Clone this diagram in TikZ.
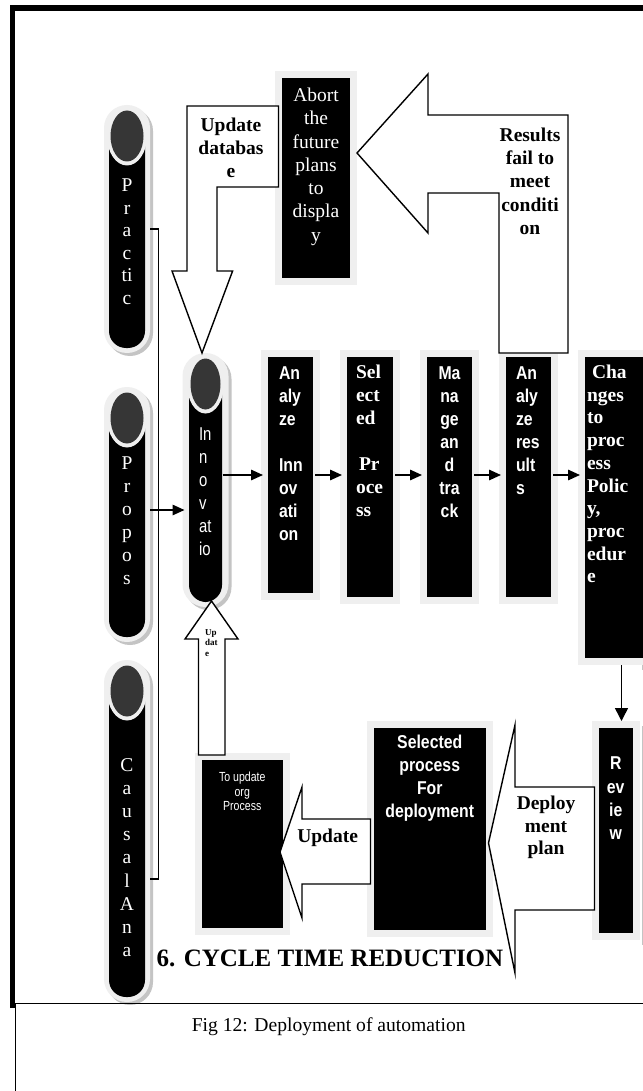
\documentclass[tikz,border=0pt]{standalone}
\usepackage{fontspec}
\setmainfont{Liberation Serif}
\newfontfamily\nsansb[FakeStretch=0.85]{Liberation Sans}
\newfontfamily\nsansr[FakeStretch=0.8]{Liberation Sans}
\usetikzlibrary{arrows.meta,calc}
\pgfdeclarelayer{background}
\pgfsetlayers{background,main}
\definecolor{lightb}{HTML}{EFEFEF}
\definecolor{shadc}{HTML}{C4C4C4}
\definecolor{darkel}{HTML}{363636}
\newcommand{\pserif}{\fontsize{19.5pt}{23pt}\selectfont}
\newcommand{\psans}{\nsansb\bfseries\fontsize{18.6pt}{23pt}\selectfont}
\newcommand{\psansr}{\nsansr\fontsize{18.6pt}{23pt}\selectfont}
% pill decoration: cx, top, bottom, half width of black body
\newcommand{\pillshape}[4]{%
  \fill[shadc, rounded corners=23pt] ({#1-20},{#2+3}) rectangle ({#1+26},{#3+3});
  \fill[lightb, rounded corners=23pt] ({#1-23},{#2}) rectangle ({#1+23},{#3});
  \fill[black] ({#1-#4},{#2+31}) [rounded corners=17pt] -- ({#1-#4},{#3-5}) -- ({#1+#4},{#3-5}) [sharp corners] -- ({#1+#4},{#2+31}) -- cycle;
  \fill[lightb] ({#1},{#2+31}) ellipse [x radius={(#4+2)*1pt}, y radius=29.5pt];
  \fill[darkel] ({#1},{#2+31}) ellipse [x radius={(#4-1.5)*1pt}, y radius=25.5pt];
}
\newcommand{\boxshadow}[1]{%
  \begin{pgfonlayer}{background}
    \fill[shadc] ([xshift=4pt,yshift=-5pt]#1.south west) rectangle ([xshift=4pt,yshift=-5pt]#1.north east);
  \end{pgfonlayer}}
\tikzset{
  pill/.style={inner sep=0pt, outer sep=0pt, text=white},
  blk/.style={fill=black, draw=lightb, line width=7pt, inner sep=3.5pt, text=white},
  arr/.style={line width=1.5pt, -{Triangle[length=12pt,width=10.5pt]}, shorten >=-2pt},
  arrv/.style={line width=1.5pt, -{Triangle[length=13pt,width=13pt]}},
  bus/.style={line width=1.3pt},
  barrow/.style={draw=black, fill=white, line width=1.4pt, line join=miter},
  atext/.style={anchor=base, inner sep=0pt},
}
\begin{document}
\begin{tikzpicture}[x=1pt,y=-1pt]
\useasboundingbox (0,0) rectangle (642,1091);
\fill[white] (0,0) rectangle (642,1091);

% ---------- pills ----------
\pillshape{127}{105}{353}{18}
\node[pill] (prac) at (127,229) {\parbox[c][248pt][t]{46pt}{\centering\pserif\baselineskip=22.6pt\rule{0pt}{86.5pt}P\\r\\a\\c\\ti\\c}};
\pillshape{127}{387}{642}{18}
\node[pill] (prop) at (127,514.5) {\parbox[c][255pt][t]{46pt}{\centering\pserif\rule{0pt}{82.5pt}P\\r\\o\\p\\o\\s}};
\pillshape{127}{660}{1002}{18}
\node[pill] (caus) at (127,831) {\parbox[c][342pt][t]{46pt}{\centering\pserif\baselineskip=23.1pt\rule{0pt}{111.5pt}C\\a\\u\\s\\a\\l\\A\\n\\a}};
\pillshape{205.5}{353}{607}{16.5}
\node[pill] (inno) at (205.5,480) {\parbox[c][254pt][t]{46pt}{\psansr\raggedright\leftskip=16.5pt\rule{0pt}{87pt}In\\n\\o\\v\\at\\io}};

% ---------- boxes ----------
\node[blk] (ab) at (316,178) {\parbox[c][200pt][t]{68pt}{\centering\pserif\baselineskip=23.3pt\rule{0pt}{23.5pt}Abort\\the\\future\\plans\\to\\displa\\y}};
\boxshadow{ab}
\node[blk] (b1) at (290.5,475) {\parbox[c][236pt][t]{45pt}{\psans\raggedright\leftskip=11pt\rule{0pt}{22.7pt}An\\aly\\ze\\[23pt]Inn\\ov\\ati\\on}};
\boxshadow{b1}
\node[blk] (b2) at (370,477) {\parbox[c][240pt][t]{46pt}{\pserif\bfseries\raggedright\leftskip=9pt\rule{0pt}{21.5pt}Sel\\ect\\ed\\[23pt]\hspace*{3pt}Pr\\oce\\ss}};
\boxshadow{b2}
\node[blk] (b3) at (449.5,477) {\parbox[c][240pt][t]{45pt}{\psans\centering\rule{0pt}{22.7pt}Ma\\na\\ge\\an\\d\\tra\\ck}};
\boxshadow{b3}
\node[blk] (b4) at (528.5,477) {\parbox[c][240pt][t]{45pt}{\psans\raggedright\leftskip=10pt\rule{0pt}{22.7pt}An\\aly\\ze\\res\\ult\\s}};
\boxshadow{b4}
\node[blk] (b5) at (620,507.5) {\parbox[c][301pt][t]{70pt}{\pserif\bfseries\raggedright\leftskip=2pt\baselineskip=22.7pt\rule{0pt}{21.5pt}\hspace*{5pt}Cha\\nges\\to\\proc\\ess\\Polic\\y,\\proc\\edur\\e}};
\boxshadow{b5}
\node[blk] (rv) at (615.7,830.5) {\parbox[c][205pt][t]{34pt}{\psans\centering\baselineskip=23.3pt\rule{0pt}{41.7pt}R\\ev\\ie\\w}};
\boxshadow{rv}
\node[blk] (sp) at (429.75,829) {\parbox[c][202pt][t]{112.5pt}{\psans\centering\rule{0pt}{20.7pt}Selected\\process\\For\\deployment}};
\boxshadow{sp}
\node[blk] (tu) at (242.25,844) {\parbox[c][168pt][t]{80.5pt}{\nsansr\fontsize{13.2pt}{14.5pt}\selectfont\centering\rule{0pt}{21.8pt}To update\\org\\Process}};
\boxshadow{tu}

% ---------- thin connectors ----------
\coordinate (busTop) at (158.5,229);
\coordinate (busBot) at (158.5,879);
\coordinate (pa) at (0,510);
\coordinate (row) at (0,475);
\coordinate (dx) at (621.5,0);
\draw[bus] (prac.east |- busTop) -- (busTop) -- (busBot) -- (caus.east |- busBot);
\draw[arr] (prop.east |- pa) -- (inno.west |- pa);
\draw[arr] ($(inno.east |- row)+(-6,0)$) -- (b1.west |- row);
\draw[arr] ($(b1.east |- row)+(-5,0)$) -- (b2.west |- row);
\draw[arr] ($(b2.east |- row)+(-5,0)$) -- (b3.west |- row);
\draw[arr] ($(b3.east |- row)+(-5,0)$) -- (b4.west |- row);
\draw[arr] ($(b4.east |- row)+(-5,0)$) -- (b5.west |- row);
\draw[arrv] (b5.south -| dx) -- (rv.north -| dx);

% ---------- block arrows ----------
\draw[barrow] ([xshift=-3.5pt]inno.north) -- ++(30.6,-82) -- ++(-15.6,0) -- ++(0,-84) -- ++(61.5,0) -- ++(0,-81) -- ++(-91.5,0) -- ++(0,165) -- ++(-15,0) -- cycle;
\draw[barrow] ([yshift=25pt]ab.east) -- ++(71,-79) -- ++(0,41) -- ++(140,0) -- ++(0,238) -- ++(-69,0) -- ++(0,-160) -- ++(-71,0) -- ++(0,40) -- cycle;
\draw[barrow] ([xshift=6pt,yshift=6pt]inno.south) -- ++(26.5,38) -- ++(-13,0) -- ++(0,116) -- ++(-26.5,0) -- ++(0,-116) -- ++(-13.5,0) -- cycle;
\draw[barrow] ([xshift=-9.5pt,yshift=-8pt]tu.east) -- ++(22,-65) -- ++(0,32) -- ++(68.5,0) -- ++(0,65) -- ++(-68.5,0) -- ++(0,34) -- cycle;
\draw[barrow] ([xshift=-4.5pt,yshift=-14pt]sp.east) -- ++(26.5,-118) -- ++(0,62) -- ++(79.5,0) -- ++(0,123) -- ++(-79.5,0) -- ++(0,63) -- cycle;

% ---------- arrow texts ----------
\node[atext] (tud) at (231,131.5) {\parbox[t]{80pt}{\centering\pserif\bfseries Update\\databas\\e}};
\node[atext] (tres) at (530,141.5) {\parbox[t]{70pt}{\centering\pserif\bfseries\baselineskip=23.2pt Results\\fail to\\meet\\conditi\\on}};
\node[atext] (tdep) at (546,809.5) {\parbox[t]{70pt}{\centering\pserif\bfseries\baselineskip=22.5pt Deploy\\ment\\plan}};
\node[atext] (tupd) at (327.6,842.5) {\pserif\bfseries Update};
\node[atext, anchor=base west] (tup) at (205,635) {\parbox[t]{22pt}{\raggedright\fontsize{9pt}{10.5pt}\selectfont\bfseries Up\\dat\\e}};

% ---------- title and caption ----------
\node[atext] (title) at (330,966) {\fontsize{25pt}{30pt}\selectfont\bfseries 6. CYCLE TIME REDUCTION};
\node[atext] (cap) at (328.7,1031) {\fontsize{19.6pt}{23pt}\selectfont Fig 12: Deployment of automation};

% ---------- frame ----------
\draw[line width=5.5pt] (12.7,1008) -- (12.7,8) -- (660,8);
\draw[line width=1.5pt] (10,1003.5) -- (660,1003.5);
\draw[line width=1.3pt] (15.5,1003.5) -- (15.5,1100);
\end{tikzpicture}
\end{document}
